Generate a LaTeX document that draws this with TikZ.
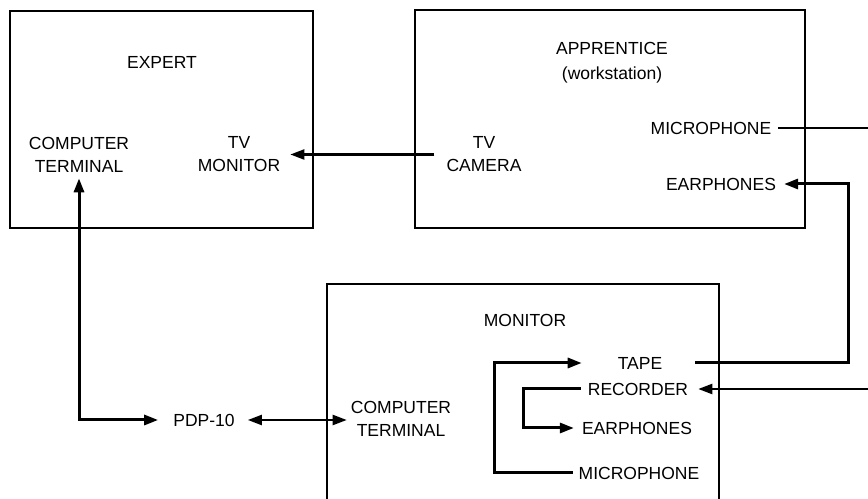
\documentclass[tikz,border=0pt]{standalone}
\usepackage{fontspec}
\setmainfont{Liberation Sans}
\usetikzlibrary{arrows.meta}

\begin{document}
\begin{tikzpicture}[>={Triangle[length=14bp,width=10bp]},line join=miter,
		every node/.style={font=\fontsize{17.5bp}{23bp}\selectfont},
		box/.style={draw,line width=1.8bp,inner sep=0pt},
		lbl/.style={align=center,inner sep=0pt},
		wire/.style={line width=2.2bp},
		bus/.style={line width=3bp}]
		\useasboundingbox (0bp,0bp) rectangle (868bp,499bp);
		\clip (0bp,0bp) rectangle (868bp,499bp);
		\node (expert) at (161.5bp,379.5bp) [box,minimum width=303bp,minimum height=217bp] {};
		  \node (appr) at (610bp,380bp) [box,minimum width=390bp,minimum height=218bp] {};
		  \node (mon) at (523bp,97.5bp) [box,minimum width=392bp,minimum height=235bp] {};
		  \node (exptitle) at (162bp,437bp) [lbl] {EXPERT};
		  \node (eterm) at (79bp,344.5bp) [lbl] {COMPUTER\\TERMINAL};
		  \node (tvmon) at (239bp,344.5bp) [lbl] {TV\\MONITOR};
		  \node (apptitle) at (612bp,436.5bp) [lbl] {APPRENTICE\\[2bp](workstation)};
		  \node (tvcam) at (484bp,344.5bp) [lbl] {TV\\CAMERA};
		  \node (amic) at (711bp,371bp) [lbl] {MICROPHONE};
		  \node (aear) at (721bp,315bp) [lbl] {EARPHONES};
		  \node (montitle) at (525bp,179bp) [lbl] {MONITOR};
		  \node (mterm) at (401bp,80bp) [lbl] {COMPUTER\\TERMINAL};
		  \node (pdp) at (204bp,79bp) [lbl] {PDP-10};
		  \node (tape) at (640bp,136bp) [lbl] {TAPE};
		  \node (rec) at (638bp,110bp) [lbl] {RECORDER};
		  \node (mear) at (637bp,71bp) [lbl] {EARPHONES};
		  \node (mmic) at (639bp,26bp) [lbl] {MICROPHONE};
		  \coordinate (micbend) at (494bp,136bp);
		  \coordinate (recbend) at (523bp,71bp);
		  \coordinate (tapebend) at (848bp,315bp);
		  \coordinate (micout) at (875bp,371bp);
		  \coordinate (recin) at (875bp,110bp);
		  \draw [->,wire] ([xshift=-12bp]tvcam.west) -- ([xshift=10bp]tvmon.east);
		  \draw [<->,bus] ([yshift=-6bp]eterm.south) |- ([xshift=-15bp]pdp.west);
		  \draw [<->,wire] ([xshift=13bp]pdp.east) -- ([xshift=-4bp]mterm.west |- pdp.east);
		  \draw [wire] ([xshift=7bp]amic.east) -- (micout);
		  \draw [->,bus] ([xshift=7bp]rec.east |- tape) -| (tapebend) -- ([xshift=8bp]aear.east);
		  \draw [->,wire] (recin) -- ([xshift=10bp]rec.east);
		  \draw [->,bus] ([xshift=-6bp]mmic.west) -| (micbend) -- ([xshift=-6bp]rec.west |- tape);
		  \draw [->,bus] ([xshift=-7bp]rec.west) -| (recbend) -- ([xshift=-8bp]mear.west);
		
	\end{tikzpicture}
\end{document}
